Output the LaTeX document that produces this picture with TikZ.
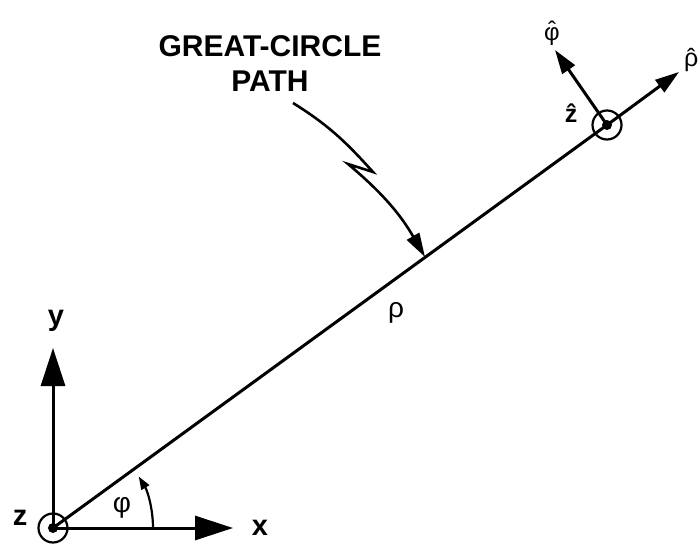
\documentclass[tikz,border=0pt]{standalone}
\usepackage{fontspec}
\setmainfont{Liberation Sans}
\usetikzlibrary{arrows.meta}
\newcommand\hatover[2]{\leavevmode\ooalign{#1\cr\hidewidth\raisebox{#2}{ˆ}\hidewidth\cr}}
\tikzset{
  thick line/.style={line width=3pt},
  bigarrow/.style={thick line,-{Triangle[length=38pt,width=24pt]}},
  medarrow/.style={thick line,-{Triangle[length=24pt,width=15pt]}},
  smallarrow/.style={line width=2.2pt,-{Triangle[length=13pt,width=9pt]}},
  ring/.style={circle,draw,line width=2.2pt,minimum size=29pt,inner sep=0pt},
  dot/.style={circle,fill,minimum size=10pt,inner sep=0pt},
  axislabel/.style={font=\fontsize{29}{30}\selectfont\bfseries,inner sep=0pt},
  greek/.style={font=\fontsize{28}{30}\selectfont,inner sep=0pt},
  title/.style={font=\fontsize{30}{35}\selectfont\bfseries,align=center,inner sep=0pt}
}
\begin{document}
\begin{tikzpicture}[x=1pt,y=1pt]
\useasboundingbox (0,0) rectangle (698,544);
% centres
\coordinate (O) at (53,16);
\coordinate (P) at (607,419);
\coordinate (xtip) at (233,16);
\coordinate (ytip) at (53,196);
\coordinate (rtip) at (679,472);
\coordinate (ftip) at (555,494);
% main path
\draw[thick line] (O) -- (P);
% axes
\draw[bigarrow] (O) -- (xtip);
\draw[bigarrow] (O) -- (ytip);
% unit vectors
\draw[medarrow] (P) -- (rtip);
\draw[medarrow] (P) -- (ftip);
% rings and dots
\node[ring] (ringO) at (O) {};
\node[dot] (dotO) at (O) {};
\node[ring] (ringP) at (P) {};
\node[dot] (dotP) at (P) {};
% angle arc
\draw[smallarrow] (153,16) arc[start angle=0,end angle=31,radius=100];
% labels
\node[axislabel] (xl) at (260,16) {x};
\node[axislabel] (yl) at (56,223) {y};
\node[axislabel] (zl) at (20,26) {z};
\node[greek] (phil) at (122,36) {φ};
\node[greek] (rhol) at (396,231) {ρ};
\node[font=\fontsize{24}{26}\selectfont,inner sep=0pt] (phihat) at (552,510) {\hatover{φ}{2pt}};
\node[font=\fontsize{25}{26}\selectfont\bfseries,inner sep=0pt] (zhat) at (571,428) {\hatover{z}{0pt}};
\node[font=\fontsize{25}{26}\selectfont,inner sep=0pt,anchor=west] (rhohat) at (684,484) {\hatover{ρ}{0pt}};
% title and lightning arrow
\node[title,anchor=base] (gc) at (270,452) {GREAT-CIRCLE\\PATH};
\coordinate (S) at (293,441);
\coordinate (A) at (373,372);
\coordinate (B) at (348,380);
\coordinate (T) at (425,287);
\draw[line width=2.6pt,-{Triangle[length=24pt,width=14pt]},line join=miter]
  (S) to[out=-32,in=132] (A) -- (B) to[out=-40,in=120] (T);
\end{tikzpicture}
\end{document}
